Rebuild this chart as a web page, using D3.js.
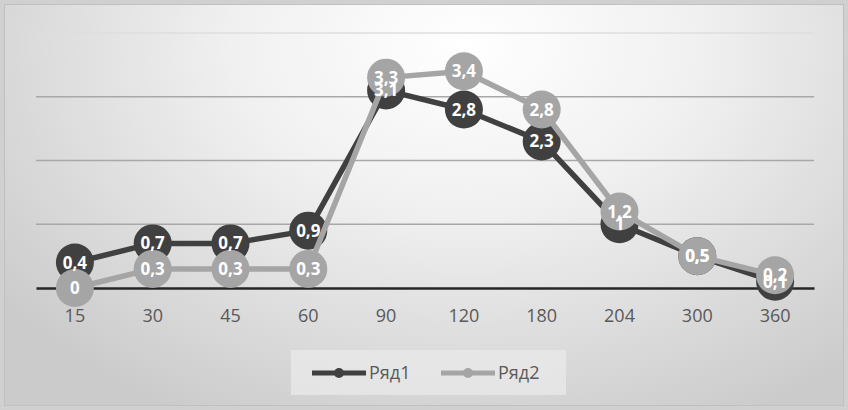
<!DOCTYPE html>
<html><head><meta charset="utf-8">
<script src="https://cdn.jsdelivr.net/npm/d3@7"></script>
<style>html,body{margin:0;padding:0;background:#fff;}svg{display:block;}</style>
</head><body>
<script>
const categories = ["15","30","45","60","90","120","180","204","300","360"];
const series1 = [0.4,0.7,0.7,0.9,3.1,2.8,2.3,1,0.5,0.1];
const series2 = [0,0.3,0.3,0.3,3.3,3.4,2.8,1.2,0.5,0.2];
const seriesNames = ["Ряд1","Ряд2"];
const yTicks = [0,1,2,3,4];

const W=848,H=410;
const svg=d3.select("body").append("svg").attr("width",W).attr("height",H);
const defs=svg.append("defs");
const rg=defs.append("radialGradient").attr("id","bg").attr("cx","0.55").attr("cy","0.1").attr("r","0.7")
  .attr("gradientTransform","translate(0.55,0.1) scale(1,1.5) translate(-0.55,-0.1)");
rg.append("stop").attr("offset","0").attr("stop-color","#ffffff");
rg.append("stop").attr("offset","0.4").attr("stop-color","#f0f0f0");
rg.append("stop").attr("offset","1").attr("stop-color","#cbcbcb");
svg.append("rect").attr("width",W).attr("height",H).attr("fill","#d0d0d0");
svg.append("rect").attr("x",4.5).attr("y",4.5).attr("width",W-9).attr("height",H-9)
  .attr("fill","url(#bg)").attr("stroke","#c0c0c0");

const x=d3.scaleBand().domain(categories).range([36,814]);
const y=d3.scaleLinear().domain([0,4]).range([288,33]);
const font="'Open Sans', 'Liberation Sans', sans-serif";

// gridlines
svg.append("g").selectAll("line").data(yTicks.filter(d=>d>0)).join("line")
  .attr("x1",36).attr("x2",814).attr("y1",d=>y(d)).attr("y2",d=>y(d))
  .attr("stroke",d=>d===4?"#dedede":"#a8a8a8").attr("stroke-width",1.5);
// axis
const ax=svg.append("g").attr("transform",`translate(0,${y(0)})`).call(d3.axisBottom(x).tickSize(0).tickPadding(21));
ax.select(".domain").attr("stroke","#262626").attr("stroke-width",2.5);
ax.selectAll("text").attr("font-family",font).attr("font-size",18).attr("fill","#595959");

const colors=["#404040","#a5a5a5"];
const data=[series1,series2];
const cx=d=>x(d)+x.bandwidth()/2;
const line=d3.line().x((d,i)=>cx(categories[i])).y(d=>y(d));
data.forEach((s,k)=>{
  const g=svg.append("g");
  g.append("path").datum(s).attr("d",line).attr("fill","none").attr("stroke",colors[k]).attr("stroke-width",5.5).attr("stroke-linejoin","round");
  g.selectAll("circle").data(s).join("circle").attr("cx",(d,i)=>cx(categories[i])).attr("cy",d=>y(d)).attr("r",19).attr("fill",colors[k]);
});
data.forEach((s,k)=>{
  svg.append("g").selectAll("text").data(s).join("text")
    .attr("x",(d,i)=>cx(categories[i])).attr("y",d=>y(d)).attr("dy","0.36em")
    .attr("text-anchor","middle").attr("font-family",font).attr("font-size",17).attr("font-weight",700)
    .attr("fill","#ffffff").text(d=>String(d).replace(".",","));
});

// legend
const lg=svg.append("g");
lg.append("rect").attr("x",291).attr("y",350).attr("width",275).attr("height",45).attr("fill","#ebebeb").attr("opacity",0.7);
const lx=[312,441];
seriesNames.forEach((n,k)=>{
  lg.append("line").attr("x1",lx[k]).attr("x2",lx[k]+54).attr("y1",373).attr("y2",373).attr("stroke",colors[k]).attr("stroke-width",5);
  lg.append("circle").attr("cx",lx[k]+27).attr("cy",373).attr("r",5).attr("fill",colors[k]);
  lg.append("text").attr("x",lx[k]+57).attr("y",373).attr("dy","0.36em").attr("font-family",font).attr("font-size",18).attr("fill","#595959").text(n);
});
</script>
</body></html>
